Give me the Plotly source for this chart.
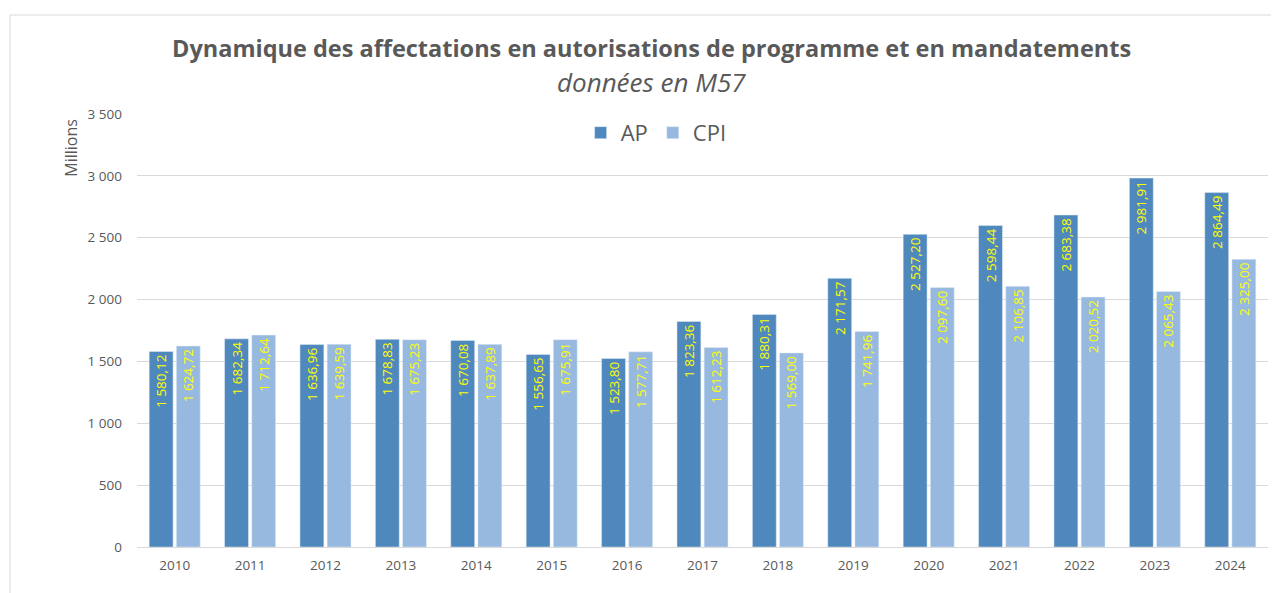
import plotly.graph_objects as go

annees = [str(a) for a in range(2010, 2025)]
ap = [1580.12, 1682.34, 1636.96, 1678.83, 1670.08, 1556.65, 1523.80, 1823.36,
      1880.31, 2171.57, 2527.20, 2598.44, 2683.38, 2981.91, 2864.49]
cpi = [1624.72, 1712.64, 1639.59, 1675.23, 1637.89, 1675.91, 1577.71, 1612.23,
       1569.00, 1741.96, 2097.60, 2106.85, 2020.52, 2065.43, 2325.00]

titre = "Dynamique des affectations en autorisations de programme et en mandatements"
sous_titre = "données en M57"


def fmt_fr(v):
    # 1580.12 -> "1 580,12"
    s = f"{v:,.2f}"
    return s.replace(",", " ").replace(".", ",")


police = "Open Sans, Liberation Sans, sans-serif"
gris = "#595959"

fig = go.Figure()
for nom, vals, couleur in [("AP", ap, "#4F88BC"), ("CPI", cpi, "#97B9E0")]:
    fig.add_trace(go.Bar(
        x=annees, y=vals, name=nom,
        marker=dict(color=couleur),
        text=[fmt_fr(v) for v in vals],
        textposition="inside", insidetextanchor="end", textangle=-90,
        insidetextfont=dict(color="#FFFF00", size=13.5, family=police),
        constraintext="none",
    ))

# la page a une marge de 8 px : on compense dans la taille et les marges
fig.update_layout(
    width=1271, height=585,
    paper_bgcolor="white", plot_bgcolor="white",
    margin=dict(l=129, r=11, t=106, b=46, autoexpand=False),
    barmode="group", bargap=0.28, bargroupgap=0.12,
    font=dict(family=police, color=gris),
    showlegend=True,
    legend=dict(
        orientation="h", x=0.459, xanchor="center", y=1.005, yanchor="top",
        font=dict(size=22, color=gris),
        itemwidth=30, bgcolor="rgba(0,0,0,0)",
    ),
    xaxis=dict(
        showgrid=False, showline=True, linecolor="#D9D9D9", linewidth=1,
        ticks="", tickfont=dict(size=13.5, color=gris), ticklabelstandoff=6,
        automargin=False,
    ),
    yaxis=dict(
        range=[0, 3500], dtick=500, tickformat=",d",
        showgrid=True, gridcolor="#D9D9D9", zeroline=False,
        ticks="", tickfont=dict(size=13.5, color=gris), ticklabelstandoff=14,
        automargin=False,
    ),
    separators=", ",
    annotations=[
        dict(text="<b>" + titre + "</b>", xref="paper", yref="paper",
             x=0.455, y=1.152, xanchor="center", yanchor="middle", showarrow=False,
             font=dict(size=23.5, color=gris)),
        dict(text="<i>" + sous_titre + "</i>", xref="paper", yref="paper",
             x=0.455, y=1.074, xanchor="center", yanchor="middle", showarrow=False,
             font=dict(size=26, color=gris)),
        dict(text="Millions", xref="paper", yref="paper", textangle=-90,
             x=-0.058, y=0.923, xanchor="center", yanchor="middle", showarrow=False,
             font=dict(size=16, color=gris)),
    ],
    shapes=[
        dict(type="line", xref="paper", yref="paper", x0=-0.1123, x1=1.02, y0=1.2286, y1=1.2286,
             line=dict(color="#D9D9D9", width=1)),
        dict(type="line", xref="paper", yref="paper", x0=-0.1123, x1=-0.1123, y0=-0.2, y1=1.2286,
             line=dict(color="#D9D9D9", width=1)),
    ],
)

fig.write_html("out.html")
